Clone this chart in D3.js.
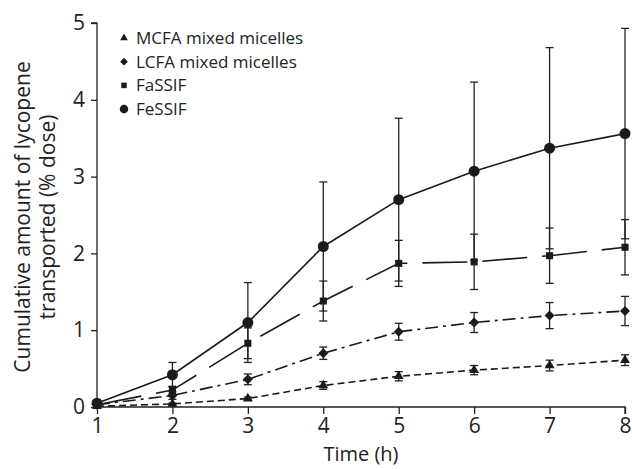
<!DOCTYPE html>
<html>
<head>
<meta charset="utf-8">
<script src="https://cdn.jsdelivr.net/npm/d3@7"></script>
<style>
  body { margin: 0; background: #fff; }
  svg { display: block; font-family: "Open Sans", "Noto Sans", sans-serif; }
</style>
</head>
<body>
<div id="chart"></div>
<script>
var times = [1, 2, 3, 4, 5, 6, 7, 8];
var xTicks = [1, 2, 3, 4, 5, 6, 7, 8];
var yTicks = [0, 1, 2, 3, 4, 5];

// mean and SD, % dose
var mcfa     = [0.01, 0.04, 0.11, 0.28, 0.40, 0.48, 0.54, 0.61];
var mcfaSd   = [0.01, 0.01, 0.02, 0.05, 0.06, 0.06, 0.07, 0.07];
var lcfa     = [0.03, 0.15, 0.36, 0.70, 0.98, 1.10, 1.19, 1.25];
var lcfaSd   = [0.01, 0.05, 0.07, 0.08, 0.11, 0.13, 0.17, 0.19];
var fassif   = [0.03, 0.22, 0.83, 1.38, 1.87, 1.89, 1.97, 2.08];
var fassifSd = [0.01, 0.05, 0.20, 0.26, 0.30, 0.36, 0.36, 0.36];
var fessif   = [0.05, 0.42, 1.10, 2.09, 2.70, 3.07, 3.37, 3.56];
var fessifSd = [0.02, 0.16, 0.52, 0.84, 1.06, 1.16, 1.31, 1.37];

var seriesNames = ["MCFA mixed micelles", "LCFA mixed micelles", "FaSSIF", "FeSSIF"];

var width = 632, height = 469;

var svg = d3.select("#chart").append("svg")
    .attr("width", width)
    .attr("height", height);

var x = d3.scaleLinear().domain([1, 8]).range([97, 625]);
var y = d3.scaleLinear().domain([0, 5]).range([407, 23]);

// diamond = square turned 45 degrees
var series = [
  {name: seriesNames[0], mean: mcfa,   sd: mcfaSd,   dash: "7,4",      sym: d3.symbolTriangle, size: 42, rot: 0},
  {name: seriesNames[1], mean: lcfa,   sd: lcfaSd,   dash: "13,5,3,5", sym: d3.symbolSquare,   size: 50, rot: 45},
  {name: seriesNames[2], mean: fassif, sd: fassifSd, dash: "45,15",    sym: d3.symbolSquare,   size: 50, rot: 0},
  {name: seriesNames[3], mean: fessif, sd: fessifSd, dash: null,       sym: d3.symbolCircle,   size: 95, rot: 0}
];

// axes
var xAxis = svg.append("g")
    .attr("transform", "translate(0," + y(0) + ")")
    .call(d3.axisBottom(x).tickValues(xTicks).tickSize(7).tickPadding(4).tickFormat(d3.format("d")));
var yAxis = svg.append("g")
    .attr("transform", "translate(" + x(1) + ",0)")
    .call(d3.axisLeft(y).tickValues(yTicks).tickSize(6).tickPadding(6).tickFormat(d3.format("d")));

[xAxis, yAxis].forEach(function(a) {
  a.select(".domain").attr("stroke", "#222").attr("stroke-width", 1.3);
  a.selectAll(".tick line").attr("stroke", "#222").attr("stroke-width", 1.3);
  a.selectAll(".tick text").attr("fill", "#222").style("font-size", "21px")
    .style("font-family", "'Open Sans', 'Noto Sans', sans-serif");
});
yAxis.select(".domain").attr("d", "M0," + y(0) + "V" + y(5) + "H-6");
xAxis.select(".domain").attr("d", "M" + x(1) + ",0H" + x(8) + "V7");

// axis titles
svg.append("text")
    .attr("x", 361).attr("y", 461)
    .attr("text-anchor", "middle")
    .style("font-size", "20px").attr("fill", "#222")
    .text("Time (h)");

var yt = svg.append("text")
    .attr("transform", "translate(0,217) rotate(-90)")
    .attr("text-anchor", "middle")
    .style("font-size", "21px").attr("fill", "#222");
yt.append("tspan").attr("x", 0).attr("y", 30).text("Cumulative amount of lycopene");
yt.append("tspan").attr("x", 0).attr("y", 55).text("transported (% dose)");

var line = d3.line()
    .x(function(d, i) { return x(times[i]); })
    .y(function(d) { return y(d); });

// error bars first
series.forEach(function(s) {
  var g = svg.append("g").attr("stroke", "#222").attr("stroke-width", 1.3);
  s.mean.forEach(function(m, i) {
    var cx = x(times[i]), hi = y(m + s.sd[i]), lo = y(Math.max(0, m - s.sd[i]));
    g.append("line").attr("x1", cx).attr("x2", cx).attr("y1", hi).attr("y2", lo);
    g.append("line").attr("x1", cx - 4).attr("x2", cx + 4).attr("y1", hi).attr("y2", hi);
    g.append("line").attr("x1", cx - 4).attr("x2", cx + 4).attr("y1", lo).attr("y2", lo);
  });
});

// lines
series.forEach(function(s) {
  svg.append("path")
      .datum(s.mean)
      .attr("fill", "none")
      .attr("stroke", "#1a1a1a")
      .attr("stroke-width", 1.6)
      .attr("stroke-dasharray", s.dash)
      .attr("d", line);
});

// markers
series.forEach(function(s) {
  svg.append("g").selectAll("path")
      .data(s.mean)
    .enter().append("path")
      .attr("transform", function(d, i) {
        return "translate(" + x(times[i]) + "," + y(d) + ") rotate(" + s.rot + ")";
      })
      .attr("d", d3.symbol().type(s.sym).size(s.size))
      .attr("fill", "#1a1a1a");
});

// legend
var legend = svg.append("g").attr("transform", "translate(124,38)");
series.forEach(function(s, i) {
  var row = legend.append("g").attr("transform", "translate(0," + (i * 23.7) + ")");
  row.append("path")
      .attr("transform", "rotate(" + s.rot + ")")
      .attr("d", d3.symbol().type(s.sym).size(s.size * 0.6))
      .attr("fill", "#1a1a1a");
  row.append("text")
      .attr("x", 12).attr("y", 6)
      .style("font-size", "17px").attr("fill", "#222")
      .text(s.name);
});
</script>
</body>
</html>
